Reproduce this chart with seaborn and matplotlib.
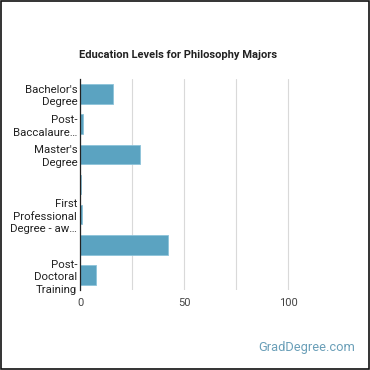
import matplotlib
matplotlib.use("Agg")
import matplotlib.pyplot as plt
import seaborn as sns
import pandas as pd
from matplotlib.patches import Rectangle

categories = ["Bachelor's Degree", "Post-Baccalaureate", "Master's Degree",
              "Doctoral A", "First Professional Degree", "Doctoral B",
              "Post-Doctoral Training"]
tick_labels = ["Bachelor's\nDegree", "Post-\nBaccalaure…", "Master's\nDegree", "",
               "First\nProfessional\nDegree - aw…", "", "Post-\nDoctoral\nTraining"]
values = [16, 1.5, 29, 0.3, 1.1, 42.5, 7.8]
x_ticks = [0, 50, 100]
title = "Education Levels for Philosophy Majors"
watermark = "GradDegree.com"

df = pd.DataFrame({"level": categories, "value": values})

sns.set_style("white")
plt.rcParams['font.family'] = ['Roboto', 'DejaVu Sans']

fig = plt.figure(figsize=(3.7, 3.7), dpi=100)
ax = fig.add_axes([80/370, 1-290/370, 260/370, 211/370])
sns.barplot(data=df, y="level", x="value", orient="h", color="#5ba3c1",
            edgecolor="#8cc3da", linewidth=0.6, width=0.65, saturation=1, ax=ax)
ax.set_xlim(0, 125)
ax.set_xticks([0, 25, 50, 75, 100])
ax.set_xticklabels(["0", "", "50", "", "100"])
ax.set_yticks(range(len(categories)))
ax.set_yticklabels(tick_labels, fontsize=8.2, color="#222222", linespacing=1.3)
ax.tick_params(axis="x", labelsize=8, colors="#444444", length=0, pad=6)
ax.tick_params(axis="y", length=0, pad=2)
ax.grid(axis="x", color="#d9d9d9", linewidth=0.8)
ax.set_axisbelow(True)
for s in ["top", "right", "bottom"]:
    ax.spines[s].set_visible(False)
ax.spines["left"].set_color("#222222")
ax.spines["left"].set_linewidth(0.9)
ax.set_xlabel("")
ax.set_ylabel("")

fig.text(79/370, 1-55/370, title, fontsize=8, fontweight="bold", color="#222222",
         va="center", ha="left")
fig.text(355/370, 1-348/370, watermark, fontsize=9.3, color="#6a9fb8",
         va="center", ha="right")
fig.patches.append(Rectangle((0.002, 0.002), 0.996, 0.996, transform=fig.transFigure,
                             fill=False, edgecolor="#111111", linewidth=1.2))
fig.savefig("out.png", dpi=100)
